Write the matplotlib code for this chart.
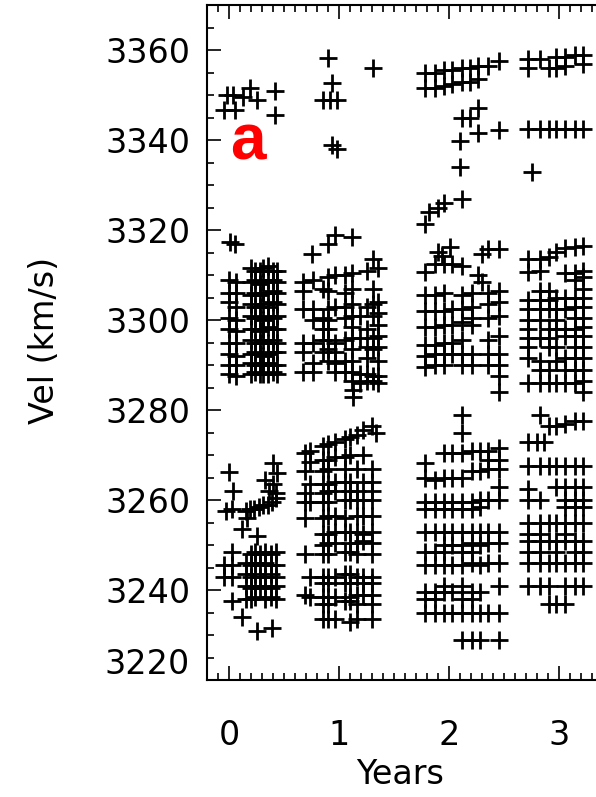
import numpy as np
import matplotlib
matplotlib.use("Agg")
import matplotlib.pyplot as plt
from matplotlib.ticker import MultipleLocator, FixedLocator, FixedFormatter

nan = np.nan

# ---------------- Season 0 ----------------
s0_top_t = [-0.02, 0.04, -0.05, 0.05, 0.19, 0.25, 0.42, 0.42, 0.13]
s0_top_v = [3350.0, 3350.0, 3346.6, 3346.6, 3351.5, 3348.8, 3350.9, 3345.5, 3349.5]

s0_mid_cols = [0.00, 0.06, 0.20, 0.24, 0.28, 0.31, 0.35, 0.40, 0.44]
s0_mid_tracks = [
    [nan, nan, 3311.5, 3311.0, 3311.0, 3311.5, 3312.0, 3311.0, 3311.0],
    [3309.0, 3308.5, 3308.5, 3309.0, 3308.0, 3308.5, 3309.0, 3309.0, 3308.5],
    [3306.0, 3306.0, 3305.5, 3306.0, 3305.5, 3306.0, 3306.0, 3306.5, 3306.0],
    [3304.0, 3303.0, 3303.5, 3303.0, 3303.0, 3303.5, 3303.0, 3304.0, 3303.5],
    [3300.5, 3300.0, 3301.0, 3300.5, 3300.5, 3300.0, 3301.0, 3300.5, 3301.0],
    [3298.0, 3297.5, 3298.0, 3298.0, 3297.5, 3298.0, 3298.5, 3298.0, 3298.0],
    [3295.0, 3295.0, 3295.5, 3295.0, 3295.0, 3295.5, 3295.0, 3295.5, 3295.0],
    [3292.5, 3292.0, 3292.5, 3293.0, 3292.5, 3292.0, 3292.5, 3293.0, 3293.0],
    [3290.0, 3290.0, 3290.5, 3290.0, 3290.0, 3290.5, 3290.5, 3290.0, 3290.0],
    [3288.0, 3287.5, 3288.0, 3288.5, 3288.0, 3288.0, 3288.0, 3288.5, 3288.0],
]
s0_mid_extra_t = [0.01, 0.05]
s0_mid_extra_v = [3317.4, 3317.0]

s0_band_t = [-0.03, 0.03, 0.15, 0.19, 0.23, 0.27, 0.31, 0.35, 0.39, 0.43]
s0_band_v = [3257.5, 3258.0, 3257.5, 3258.0, 3258.0, 3258.5, 3259.0, 3259.0, 3259.5, 3260.5]
s0_bot_extra_t = [0.00, 0.04, 0.40, 0.33, 0.40, 0.44, 0.43, 0.36, 0.16, 0.12, 0.25, 0.12, 0.25, 0.39]
s0_bot_extra_v = [3266.3, 3262.0, 3268.3, 3264.5, 3263.5, 3266.0, 3261.5, 3262.0, 3256.0,
                  3253.5, 3252.0, 3234.0, 3231.0, 3231.5]
s0_low_cols = [-0.05, 0.03, 0.15, 0.20, 0.24, 0.28, 0.33, 0.38, 0.43]
s0_low_tracks = [
    [nan, 3248.5, nan, 3248.0, 3248.5, 3248.0, 3248.5, 3248.0, 3248.5],
    [3245.5, 3245.5, 3246.0, 3245.5, 3246.0, 3245.5, 3246.0, 3245.5, 3245.5],
    [3243.0, 3243.0, 3243.5, 3243.0, 3243.5, 3243.0, 3243.0, 3243.5, 3243.0],
    [nan, nan, 3241.0, 3240.5, 3241.0, 3240.5, 3241.0, 3240.5, 3241.0],
    [nan, 3237.5, 3238.0, 3238.0, 3238.5, nan, 3238.0, 3238.5, 3238.0],
]

# ---------------- Season 1 ----------------
s1_top_t = [0.90, 1.31, 0.94, 0.85, 0.92, 0.98, 0.94, 0.98]
s1_top_v = [3358.2, 3356.0, 3352.6, 3349.0, 3349.0, 3348.8, 3338.8, 3338.1]

s1_mid_cols = [0.67, 0.76, 0.85, 0.90, 0.96, 1.05, 1.12, 1.19, 1.25, 1.31, 1.35]
s1_mid_tracks = [
    [nan, nan, nan, nan, 3319.0, nan, 3318.5, nan, nan, nan, nan],
    [3308.5, 3309.0, nan, 3309.5, 3310.0, 3310.0, 3310.5, nan, 3311.0, nan, 3311.5],
    [3306.5, nan, 3307.0, 3306.5, nan, 3306.0, 3307.0, nan, nan, 3307.0, nan],
    [3302.5, 3302.5, nan, 3302.5, 3303.0, 3303.0, 3303.5, nan, 3303.0, 3303.5, 3304.0],
    [nan, 3300.0, 3300.5, 3300.0, nan, 3300.5, 3301.0, 3301.0, nan, 3301.0, 3301.5],
    [nan, nan, 3298.0, 3298.0, nan, nan, 3298.5, nan, 3298.0, nan, 3299.0],
    [3295.0, 3295.0, 3295.5, 3295.5, 3295.0, 3295.5, 3296.0, 3296.0, nan, 3296.0, 3296.5],
    [3293.0, nan, 3293.0, 3293.5, 3293.0, nan, 3293.5, nan, 3294.0, 3293.5, 3294.0],
    [nan, 3290.5, nan, 3291.0, 3290.5, 3291.0, 3291.0, nan, 3291.5, nan, 3291.0],
    [3288.5, 3288.5, nan, nan, 3288.5, 3288.5, 3288.5, 3288.0, 3288.0, 3287.5, 3287.5],
    [nan, nan, nan, nan, nan, nan, 3286.5, 3286.0, 3286.5, 3286.5, 3286.0],
]
s1_mid_extra_t = [0.75, 0.90, 1.31, 1.13, 1.13]
s1_mid_extra_v = [3314.7, 3317.0, 3313.6, 3284.5, 3282.8]

s1_bot_cols = [0.69, 0.74, 0.85, 0.90, 0.96, 1.05, 1.10, 1.16, 1.22, 1.30]
s1_bot_tracks = [
    [3270.5, 3271.0, 3272.0, 3272.5, 3273.0, 3273.5, 3274.0, 3274.5, 3275.5, 3276.5],
    [nan, 3268.5, 3269.0, 3269.0, 3269.5, 3269.5, 3270.0, nan, 3270.0, nan],
    [3266.5, nan, 3266.5, 3267.0, nan, 3267.0, nan, 3267.0, nan, 3267.0],
    [nan, 3263.5, 3263.5, 3263.5, 3264.0, 3264.0, 3264.0, nan, 3264.0, 3264.0],
    [3261.5, nan, 3261.5, 3262.0, 3262.0, nan, 3262.0, 3262.0, nan, 3262.0],
    [3259.5, 3259.5, 3259.5, 3259.5, nan, 3260.0, 3260.0, 3260.0, 3260.0, 3260.0],
    [3256.0, nan, 3256.0, 3256.5, 3256.5, 3256.0, nan, 3256.5, 3256.5, 3256.5],
    [nan, nan, 3252.5, 3252.5, 3253.0, 3253.0, 3253.0, 3253.0, 3252.5, 3253.0],
    [nan, nan, 3250.0, 3250.5, 3250.5, nan, 3250.5, 3250.5, 3251.0, 3250.5],
    [3248.0, nan, 3248.0, 3248.0, nan, 3248.5, 3248.5, 3248.0, nan, 3248.0],
    [nan, 3243.0, 3243.0, 3243.0, 3243.0, 3243.5, 3243.5, 3243.0, 3243.0, 3243.0],
    [nan, nan, 3241.5, 3241.5, nan, 3241.5, 3241.5, nan, 3241.5, 3241.5],
    [3239.0, 3238.5, 3238.5, 3238.5, 3238.5, nan, 3238.5, 3239.0, 3239.0, 3239.0],
    [nan, nan, 3237.0, 3237.0, nan, 3237.5, 3237.5, 3237.0, nan, 3237.0],
    [nan, nan, 3233.5, 3233.5, 3233.5, nan, 3233.0, 3233.5, nan, 3233.5],
]
s1_bot_extra_t = [1.34]
s1_bot_extra_v = [3275.0]

# ---------------- Season 2 ----------------
s2_top_cols = [1.78, 1.87, 1.95, 2.03, 2.12, 2.19, 2.26, 2.35, 2.45]
s2_top_tracks = [
    [3355.0, 3355.0, 3355.5, 3355.5, 3356.0, 3356.0, 3356.5, 3356.5, 3357.5],
    [3351.5, 3351.5, 3352.0, 3352.5, 3353.0, 3353.0, 3353.5, nan, nan],
]
s2_top_extra_t = [2.26, 2.12, 2.19, 2.26, 2.45, 2.10, 2.10, 2.12, 1.95, 1.90, 1.82, 1.78]
s2_top_extra_v = [3347.1, 3344.8, 3344.8, 3341.5, 3342.2, 3339.7, 3334.1, 3327.0, 3326.0,
                  3325.0, 3324.0, 3321.4]

s2_mid_cols = [1.78, 1.87, 1.95, 2.03, 2.12, 2.21, 2.35, 2.45]
s2_mid_tracks = [
    [nan, 3312.5, 3312.5, 3312.5, 3312.0, nan, nan, nan],
    [3305.5, 3305.5, 3306.0, nan, 3305.5, 3306.0, 3306.0, 3306.5],
    [3302.0, 3302.0, 3302.0, 3302.5, 3302.5, 3303.0, 3303.5, 3304.0],
    [nan, nan, nan, nan, nan, 3300.5, 3300.5, 3301.0],
    [3298.5, 3298.5, 3299.0, 3299.0, 3299.5, 3299.0, nan, nan],
    [nan, nan, nan, nan, nan, nan, nan, 3296.5],
    [3294.5, 3294.5, 3295.0, 3295.0, 3295.5, nan, 3295.5, nan],
    [3292.0, 3292.5, 3292.5, 3292.5, 3292.5, 3292.5, 3292.5, 3292.5],
    [3289.5, 3290.0, 3290.0, nan, 3290.0, 3290.0, 3290.0, 3290.0],
]
s2_mid_extra_t = [1.90, 2.01, 1.94, 2.35, 2.45, 2.30, 1.78, 2.30, 2.26, 2.45, 2.45]
s2_mid_extra_v = [3315.2, 3316.3, 3314.3, 3315.8, 3315.8, 3314.7, 3310.7, 3308.5, 3310.0,
                  3287.5, 3284.0]

s2_bot_cols = [1.78, 1.87, 1.95, 2.03, 2.12, 2.21, 2.28, 2.35, 2.45]
s2_bot_tracks = [
    [nan, nan, 3270.5, 3270.5, 3270.5, 3271.0, 3271.0, 3271.0, 3271.5],
    [3268.3, nan, nan, nan, nan, nan, nan, 3269.0, 3269.0],
    [nan, nan, nan, nan, nan, 3266.5, 3266.5, 3267.0, 3267.0],
    [3265.0, 3264.5, 3265.0, 3265.0, 3265.0, nan, nan, nan, nan],
    [3259.5, 3259.5, 3259.5, 3259.5, 3259.5, 3259.5, 3260.0, 3260.0, 3260.0],
    [3258.0, 3258.0, 3258.0, 3258.0, 3258.0, 3258.0, 3258.5, nan, nan],
    [3253.0, 3253.0, 3253.0, 3253.0, 3253.0, 3253.0, 3253.0, 3253.0, 3253.0],
    [nan, nan, 3250.0, 3250.0, 3250.0, 3250.5, 3250.0, 3250.5, 3250.5],
    [3248.5, 3248.5, 3248.5, nan, 3248.5, 3248.5, nan, nan, nan],
    [3245.5, 3245.5, 3245.5, 3245.5, 3245.5, 3246.0, 3245.5, 3246.0, 3246.0],
    [nan, nan, 3241.0, nan, 3241.0, nan, nan, nan, 3241.0],
    [3239.5, 3239.5, 3239.5, 3239.5, nan, 3239.5, 3239.5, nan, nan],
    [3238.0, 3238.0, nan, nan, 3238.0, 3238.0, nan, nan, nan],
    [3235.0, 3235.0, 3235.0, 3235.0, 3235.0, 3235.0, 3235.0, 3235.0, 3235.0],
    [nan, nan, nan, nan, 3229.0, 3229.0, 3229.0, nan, 3229.0],
]
s2_bot_extra_t = [2.12, 2.12, 2.45]
s2_bot_extra_v = [3279.0, 3275.0, 3263.0]

# ---------------- Season 3 ----------------
s3_cols = [2.72, 2.83, 2.91, 2.97, 3.05, 3.14, 3.22]
s3_top_tracks = [
    [3358.0, 3358.0, nan, 3358.5, 3358.5, 3359.0, 3359.0],
    [3356.0, nan, 3356.0, 3356.0, 3356.5, nan, 3357.0],
    [3342.5, 3342.5, 3342.5, 3342.5, 3342.5, 3342.5, 3342.5],
]
s3_mid_tracks = [
    [nan, nan, nan, 3315.2, 3316.0, 3316.3, 3316.5],
    [3313.5, 3313.5, 3314.0, nan, nan, nan, nan],
    [3310.7, 3311.0, nan, nan, 3310.5, 3310.5, 3311.0],
    [nan, nan, nan, nan, nan, 3309.0, 3309.5],
    [nan, 3306.5, 3306.5, nan, nan, nan, 3307.0],
    [3304.5, 3304.5, 3304.5, 3305.0, 3305.0, 3305.0, 3305.0],
    [3302.5, 3302.5, 3302.5, 3302.5, 3302.5, 3303.0, 3303.0],
    [3300.0, 3300.0, nan, 3300.0, nan, 3300.5, 3300.5],
    [3298.0, nan, 3298.0, 3298.0, 3298.0, 3298.0, 3298.5],
    [3296.0, 3296.0, 3296.0, nan, 3296.5, 3296.5, 3296.5],
    [3294.0, nan, 3294.0, 3294.0, nan, 3294.0, 3294.0],
    [3291.5, 3291.0, nan, 3291.0, 3291.5, 3291.5, 3291.5],
    [nan, 3289.0, 3289.0, nan, 3289.0, 3289.0, 3289.0],
    [3286.0, 3286.0, 3286.0, 3286.0, 3286.0, 3286.0, 3286.5],
]
s3_bot_tracks = [
    [nan, nan, 3276.5, 3276.5, 3277.0, 3277.5, 3277.5],
    [3267.5, 3267.5, 3267.5, 3267.5, 3267.5, 3267.5, 3267.5],
    [3262.5, nan, nan, 3263.0, 3263.0, 3263.0, 3263.0],
    [3260.0, 3260.0, nan, nan, 3260.0, 3260.0, 3260.0],
    [nan, nan, nan, nan, 3258.5, 3258.5, 3258.5],
    [3255.0, 3255.0, 3255.0, 3255.0, 3255.0, 3255.0, 3255.0],
    [3252.5, 3252.5, nan, nan, 3252.5, nan, nan],
    [3251.0, 3251.0, 3251.0, 3251.0, 3251.0, 3251.0, 3251.0],
    [3248.5, 3248.5, nan, 3248.5, nan, 3248.5, 3248.5],
    [3246.0, 3246.0, 3246.0, 3246.0, 3246.0, 3246.0, 3246.0],
    [3241.0, 3241.0, 3241.0, nan, 3241.0, 3241.0, 3241.0],
    [nan, nan, 3237.0, 3237.0, 3237.0, nan, nan],
]
s3_extra_t = [2.75, 3.22, 2.83, 2.72, 2.80, 2.86]
s3_extra_v = [3333.0, 3284.0, 3279.0, 3273.0, 3273.0, 3273.0]

y_ticks = [3220, 3240, 3260, 3280, 3300, 3320, 3340, 3360]
x_ticks = [0, 1, 2, 3]


def grid(cols, tracks):
    xs, vs = [], []
    for row in tracks:
        for c, v in zip(cols, row):
            if not np.isnan(v):
                xs.append(c)
                vs.append(v)
    return xs, vs


X, V = [], []
for cols, tracks in [(s0_mid_cols, s0_mid_tracks), (s0_low_cols, s0_low_tracks),
                     (s1_mid_cols, s1_mid_tracks), (s1_bot_cols, s1_bot_tracks),
                     (s2_top_cols, s2_top_tracks), (s2_mid_cols, s2_mid_tracks),
                     (s2_bot_cols, s2_bot_tracks), (s3_cols, s3_top_tracks),
                     (s3_cols, s3_mid_tracks), (s3_cols, s3_bot_tracks)]:
    a, b = grid(cols, tracks)
    X += a
    V += b
for t, v in [(s0_top_t, s0_top_v), (s0_mid_extra_t, s0_mid_extra_v), (s0_band_t, s0_band_v),
             (s0_bot_extra_t, s0_bot_extra_v), (s1_top_t, s1_top_v),
             (s1_mid_extra_t, s1_mid_extra_v), (s1_bot_extra_t, s1_bot_extra_v),
             (s2_top_extra_t, s2_top_extra_v), (s2_mid_extra_t, s2_mid_extra_v),
             (s2_bot_extra_t, s2_bot_extra_v), (s3_extra_t, s3_extra_v)]:
    X += list(t)
    V += list(v)

W, H = 596, 797
fig = plt.figure(figsize=(W / 100, H / 100), dpi=100)
ax = fig.add_axes([207 / W, 1 - 680 / H, (W - 207) / W, (680 - 5) / H])
ax.plot(X, V, linestyle="none", marker="+", markersize=13.5, markeredgewidth=2.0,
        color="black")

ax.set_xlim(-0.2, 3.335)
ax.set_ylim(3220, 3370)
ax.spines["right"].set_visible(False)
for s in ["left", "bottom", "top"]:
    ax.spines[s].set_linewidth(1.5)

ax.yaxis.set_major_locator(FixedLocator(y_ticks))
ax.yaxis.set_major_formatter(FixedFormatter([""] + [str(v) for v in y_ticks[1:]]))
ax.yaxis.set_minor_locator(MultipleLocator(5))
ax.xaxis.set_major_locator(FixedLocator(x_ticks))
ax.xaxis.set_major_formatter(FixedFormatter([str(v) for v in x_ticks]))
ax.xaxis.set_minor_locator(MultipleLocator(0.1))
ax.tick_params(which="both", direction="in", top=True, right=False, width=1.2,
               labelsize=24, colors="black")
ax.tick_params(which="major", length=10)
ax.tick_params(which="minor", length=5)
ax.tick_params(axis="y", pad=12)
ax.tick_params(axis="x", pad=28)

fig.text(190 / W, 1 - 665 / H, "3220", ha="right", va="center", fontsize=24)
fig.text(45 / W, 1 - 340 / H, "Vel (km/s)", rotation=90, ha="center", va="center",
         fontsize=24)
fig.text(400 / W, 1 - 775 / H, "Years", ha="center", va="center", fontsize=24)
fig.text(248 / W, 1 - 160 / H, "a", ha="center", va="baseline", fontsize=46,
         fontweight="bold", color="#ff0000", family="Liberation Sans")

fig.savefig("out.png", dpi=100)
